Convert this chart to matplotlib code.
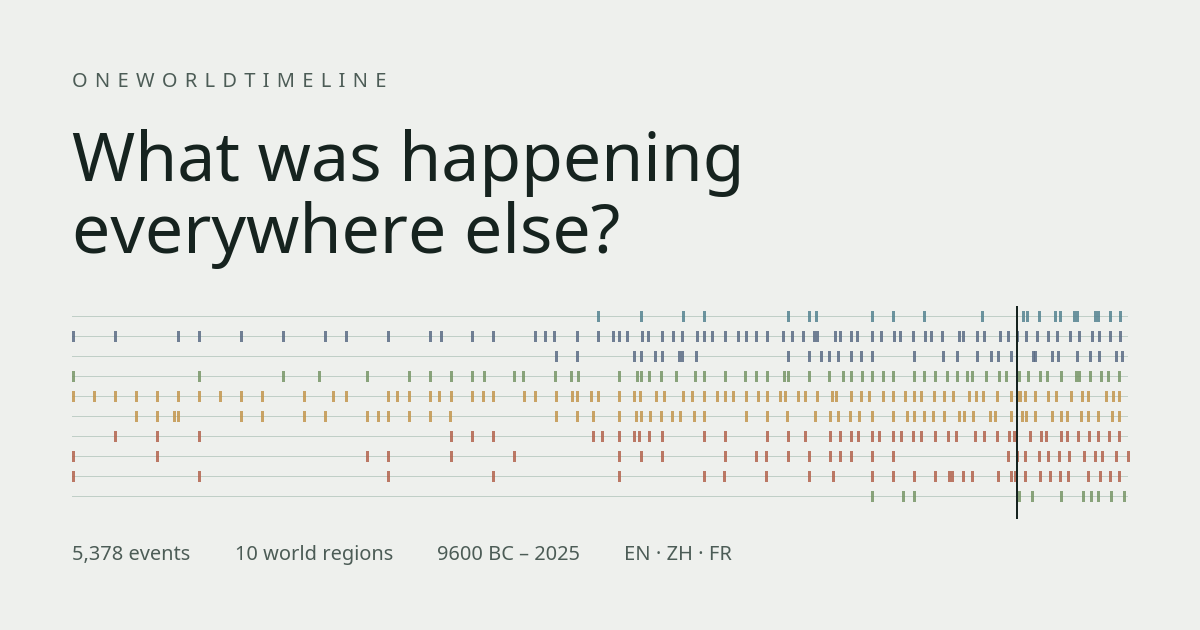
import matplotlib
matplotlib.use('Agg')
import matplotlib.pyplot as plt

W, H = 1200, 630
BG = '#eef0ed'
INK = '#16231f'
MUTED = '#4c5c56'
RULE = '#c0cfc7'

TEAL = '#548391'
SLATE = '#5a6b85'
GREEN = '#789667'
OCHRE = '#c3964d'
RUST = '#b2634d'

# event positions along the timeline, one list per region (top to bottom)
region_a = [525, 568, 610, 631, 715, 736, 743, 799, 820, 851, 909, 950, 954, 966, 982, 987,
            1001, 1004, 1022, 1025, 1037, 1047]
region_b = [0, 42, 105, 126, 168, 210, 252, 273, 315, 357, 368, 399, 420, 462, 472, 481, 504,
            525, 540, 546, 554, 569, 575, 589, 600, 609, 624, 631, 639, 652, 665, 673, 683, 694,
            710, 719, 730, 741, 744, 762, 767, 778, 784, 799, 808, 821, 827, 840, 852, 858, 869,
            886, 890, 904, 911, 927, 935, 944, 953, 964, 975, 984, 997, 1006, 1019, 1026, 1037, 1047]
region_c = [483, 504, 561, 568, 582, 589, 606, 609, 623, 715, 736, 748, 756, 765, 778, 788, 799,
            841, 870, 884, 904, 918, 925, 938, 960, 962, 979, 985, 1004, 1017, 1026, 1043, 1049]
region_d = [0, 126, 210, 246, 294, 336, 357, 378, 399, 411, 441, 450, 482, 498, 505, 546, 564,
            568, 576, 588, 603, 622, 631, 652, 672, 683, 694, 711, 715, 736, 756, 770, 778, 789,
            799, 810, 820, 841, 851, 862, 874, 884, 894, 899, 913, 926, 933, 946, 955, 967, 974,
            988, 1003, 1006, 1017, 1028, 1035, 1046]
region_e = [0, 21, 42, 63, 84, 105, 126, 147, 168, 189, 231, 260, 273, 315, 324, 336, 357, 366,
            378, 399, 410, 420, 451, 462, 483, 499, 504, 518, 525, 546, 561, 567, 583, 591, 610,
            619, 631, 644, 652, 660, 673, 685, 694, 707, 712, 725, 732, 744, 759, 763, 778, 788,
            796, 810, 820, 832, 841, 848, 861, 871, 880, 896, 903, 910, 924, 938, 944, 947, 952,
            962, 975, 983, 998, 1009, 1015, 1033, 1040, 1046]
region_f = [63, 84, 101, 105, 168, 189, 231, 252, 294, 305, 315, 336, 357, 377, 483, 504, 520,
            546, 563, 568, 577, 588, 599, 607, 621, 631, 673, 694, 714, 742, 757, 765, 777, 786,
            799, 820, 834, 841, 851, 860, 871, 886, 891, 900, 917, 922, 938, 949, 953, 962, 979,
            988, 994, 1008, 1015, 1025, 1039, 1046]
region_g = [42, 84, 126, 378, 399, 420, 520, 529, 546, 561, 566, 576, 589, 631, 652, 694, 715,
            732, 757, 767, 778, 785, 799, 806, 820, 828, 840, 848, 862, 875, 883, 902, 911, 924,
            936, 941, 957, 968, 973, 988, 994, 1005, 1016, 1025, 1036, 1046]
region_h = [0, 84, 294, 315, 378, 441, 546, 568, 589, 652, 683, 693, 715, 736, 757, 767, 778,
            799, 820, 935, 944, 952, 966, 975, 986, 996, 1011, 1022, 1029, 1043, 1055]
region_i = [0, 126, 315, 420, 546, 631, 651, 693, 736, 760, 799, 820, 841, 862, 876, 879, 890,
            899, 925, 938, 942, 952, 967, 977, 987, 995, 1015, 1027, 1037, 1046]
region_j = [799, 830, 841, 946, 959, 988, 1010, 1018, 1025, 1038, 1051]

regions = [region_a, region_b, region_c, region_d, region_e,
           region_f, region_g, region_h, region_i, region_j]
region_colors = [TEAL, SLATE, SLATE, GREEN, OCHRE, OCHRE, RUST, RUST, RUST, GREEN]
now_pos = 943.5

# no letter-spacing in matplotlib, so a space plus a hair space stands in for it
kicker = ' \u200a'.join('ONEWORLDTIMELINE')
title_lines = ['What was happening', 'everywhere else?']
facts = ['5,378 events', '10 world regions', '9600 BC – 2025', 'EN · ZH · FR']
fact_x = [72, 235, 437, 624]

plt.rcParams['font.family'] = ['Noto Sans', 'DejaVu Sans']

fig = plt.figure(figsize=(W / 100, H / 100), dpi=100, facecolor=BG)


def put_text(x, y, s, size, color):
    # x and y are in reference pixels, y is the baseline
    fig.text(x / W, 1 - y / H, s, fontsize=size * 0.72, color=color, va='baseline', ha='left')


put_text(72, 87, kicker, 20, MUTED)
put_text(72, 181, title_lines[0], 68, INK)
put_text(72, 253, title_lines[1], 68, INK)
for x, s in zip(fact_x, facts):
    put_text(x, 560, s, 20, MUTED)

# timeline strip, row i sits 20 px below row i-1
ax = fig.add_axes([72 / W, 1 - 519 / H, 1056 / W, 213 / H])
ax.set_xlim(-1.5, 1054.5)
ax.set_ylim(10.15, -0.5)
ax.axis('off')

for i, events in enumerate(regions):
    ax.axhline(i, color=RULE, lw=0.72, zorder=1)
    ax.bar(events, 0.55, width=3, bottom=i - 0.225, color=region_colors[i],
           alpha=0.85, linewidth=0, zorder=2, clip_on=False)

ax.axvline(now_pos, color=INK, lw=1.44, zorder=3)

fig.savefig('out.png', dpi=100, facecolor=BG)
